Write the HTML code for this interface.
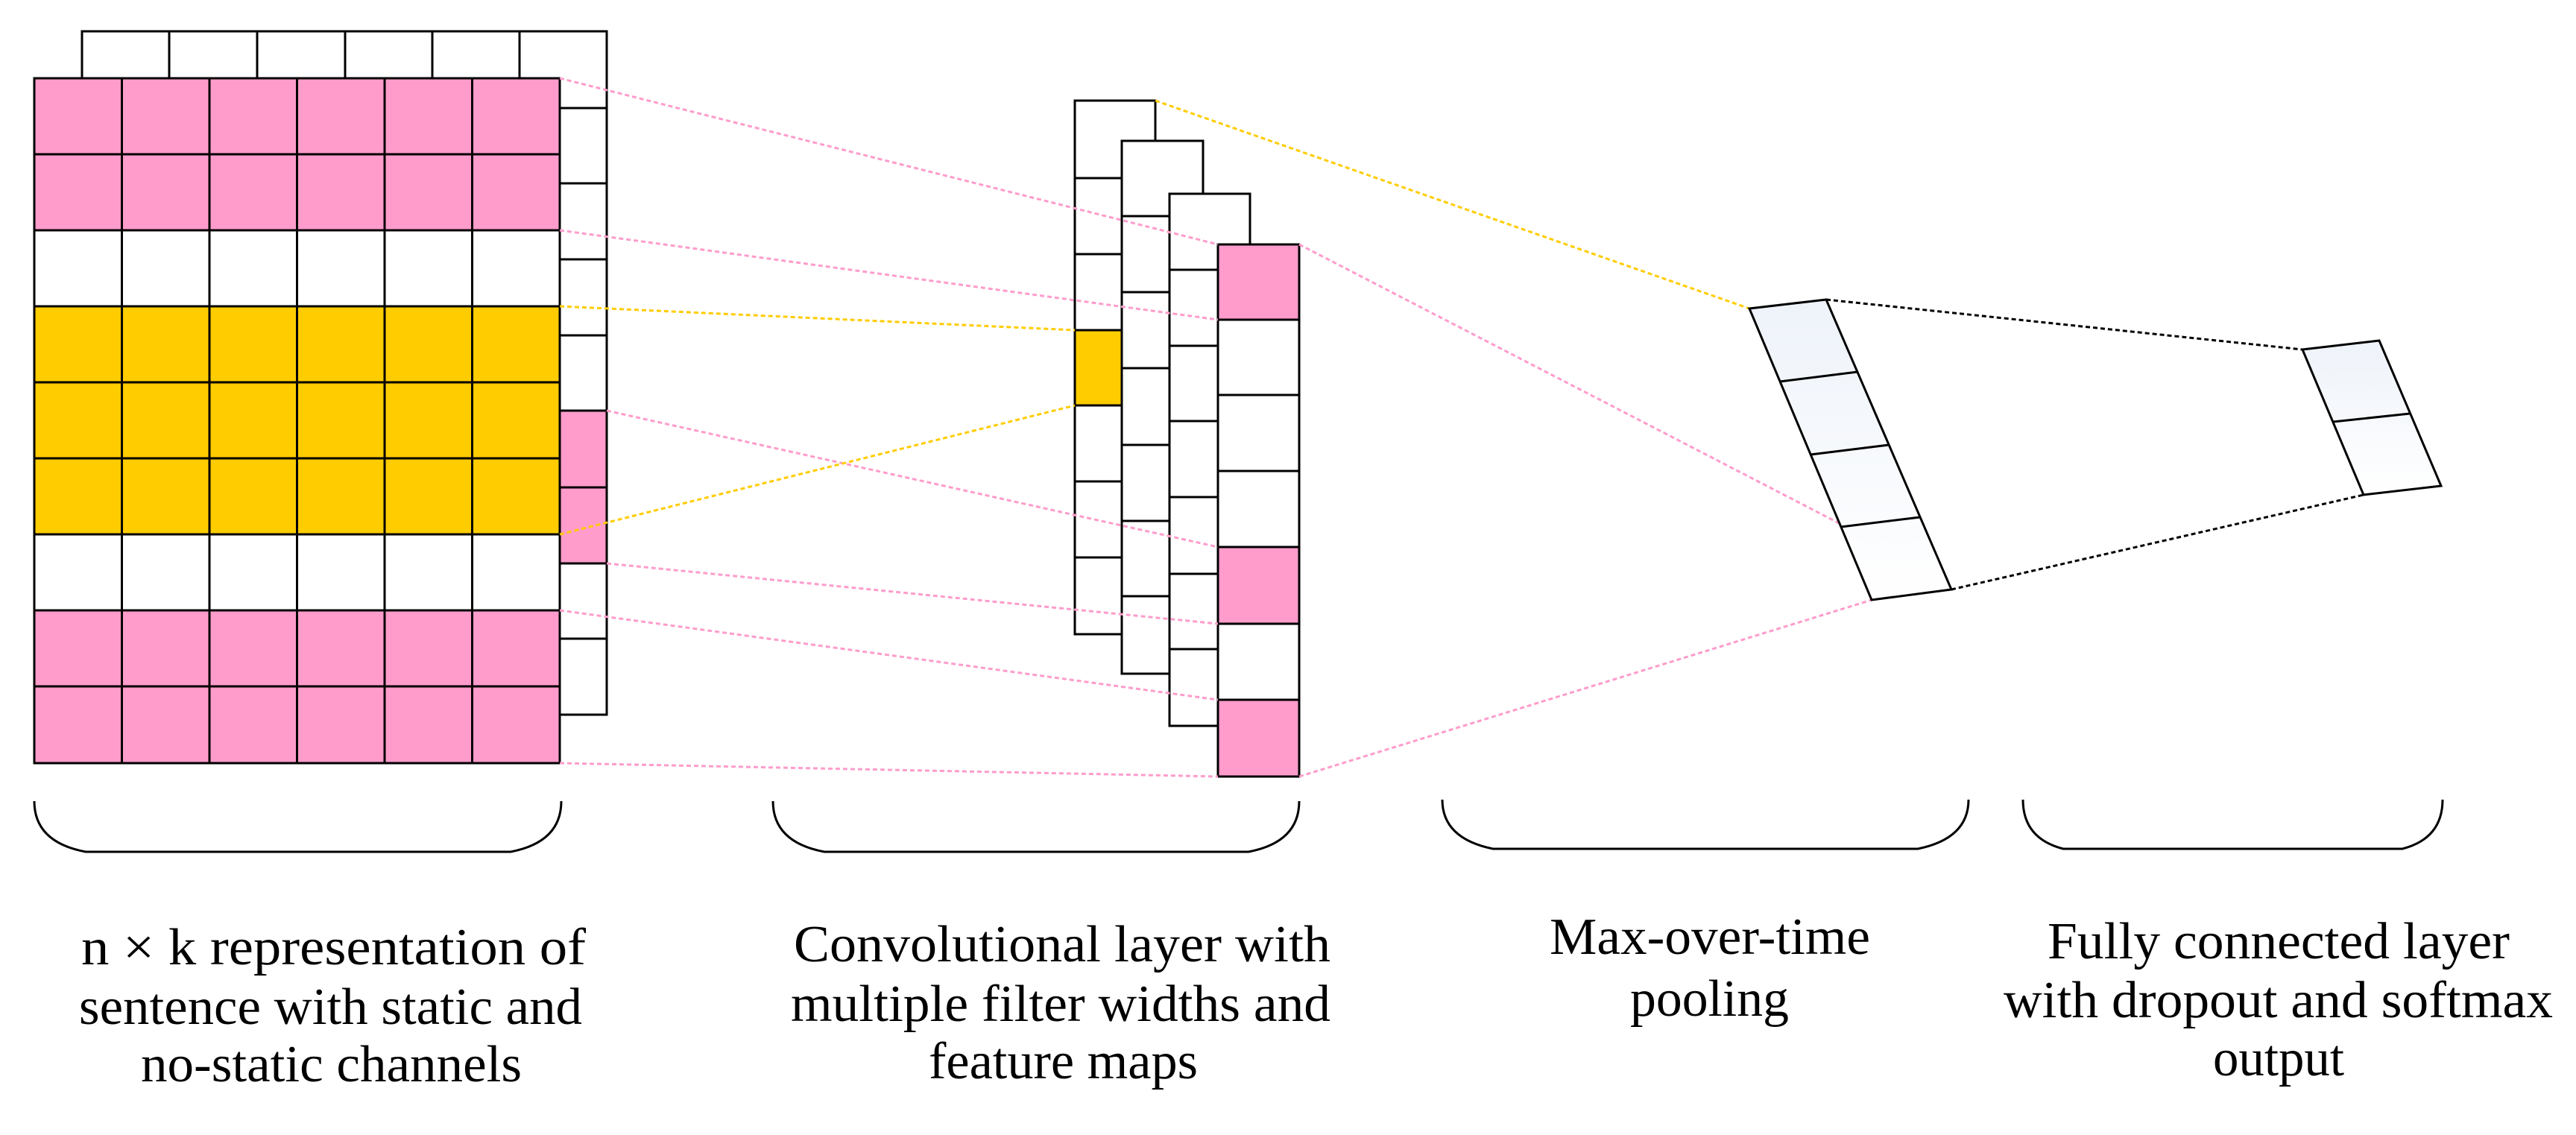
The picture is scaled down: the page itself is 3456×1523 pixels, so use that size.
<!DOCTYPE html>
<html><head><meta charset="utf-8"><style>
html,body{margin:0;padding:0;background:#fff;width:3456px;height:1523px;overflow:hidden}
svg{display:block}
</style></head><body>
<svg width="3456" height="1523" viewBox="0 0 3456 1523" xmlns="http://www.w3.org/2000/svg">
<defs>
<linearGradient id="g" x1="0" y1="0" x2="0" y2="1"><stop offset="0" stop-color="#eef3fa"/><stop offset="1" stop-color="#ffffff"/></linearGradient>
</defs>
<g stroke="#000" stroke-width="3">
<rect x="110" y="42" width="117" height="63" fill="#fff"/>
<rect x="227" y="42" width="118" height="63" fill="#fff"/>
<rect x="345" y="42" width="118" height="63" fill="#fff"/>
<rect x="463" y="42" width="117" height="63" fill="#fff"/>
<rect x="580" y="42" width="117" height="63" fill="#fff"/>
<rect x="697" y="42" width="117" height="103" fill="#fff"/>
<rect x="751" y="145" width="63" height="101" fill="#fff"/>
<rect x="751" y="246" width="63" height="102" fill="#fff"/>
<rect x="751" y="348" width="63" height="102" fill="#fff"/>
<rect x="751" y="450" width="63" height="101" fill="#fff"/>
<rect x="751" y="551" width="63" height="103" fill="#ff9ccc"/>
<rect x="751" y="654" width="63" height="102" fill="#ff9ccc"/>
<rect x="751" y="756" width="63" height="101" fill="#fff"/>
<rect x="751" y="857" width="63" height="102" fill="#fff"/>
</g>
<g stroke="#000" stroke-width="3">
<g fill="#ff9ccc"><rect x="46" y="105" width="705" height="102"/><rect x="46" y="207" width="705" height="102"/></g>
<rect x="46" y="309" width="705" height="102" fill="#fff"/>
<g fill="#ffcc00"><rect x="46" y="411" width="705" height="102"/><rect x="46" y="513" width="705" height="102"/><rect x="46" y="615" width="705" height="102"/></g>
<rect x="46" y="717" width="705" height="102" fill="#fff"/>
<g fill="#ff9ccc"><rect x="46" y="819" width="705" height="102"/><rect x="46" y="921" width="705" height="103"/></g>
<path d="M163.5 105V1024M281 105V1024M398.5 105V1024M516 105V1024M633.5 105V1024" fill="none"/>
</g>
<g stroke="#000" stroke-width="3" fill="#fff">
<rect x="1442" y="135" width="108" height="716"/>
<rect x="1442" y="443" width="63" height="101" fill="#ffcc00"/>
<path d="M1442 239H1505M1442 341H1505M1442 646H1505M1442 748H1505" fill="none"/>
<rect x="1505" y="189" width="109" height="715"/>
<path d="M1505 290H1569M1505 392H1569M1505 494H1569M1505 597H1569M1505 699H1569M1505 800H1569" fill="none"/>
<rect x="1569" y="260" width="108" height="714"/>
<path d="M1569 362H1634M1569 464H1634M1569 565H1634M1569 667H1634M1569 770H1634M1569 871H1634" fill="none"/>
<rect x="1634" y="328" width="109" height="101" fill="#ff9ccc"/>
<rect x="1634" y="429" width="109" height="101"/>
<rect x="1634" y="530" width="109" height="102"/>
<rect x="1634" y="632" width="109" height="102"/>
<rect x="1634" y="734" width="109" height="103" fill="#ff9ccc"/>
<rect x="1634" y="837" width="109" height="102"/>
<rect x="1634" y="939" width="109" height="103" fill="#ff9ccc"/>
</g>
<g fill="none" stroke-width="3" stroke-dasharray="6 4">
<g stroke="#ff9ccc">
<path d="M751 105L1634 328"/>
<path d="M751 309L1634 429"/>
<path d="M814 551L1634 734"/>
<path d="M814 756L1634 837"/>
<path d="M751 819L1634 939"/>
<path d="M751 1024L1634 1042"/>
<path d="M1743 328L2471 704"/>
<path d="M1743 1042L2511 805"/>
</g>
<g stroke="#ffcc00">
<path d="M751 411L1442 443"/>
<path d="M751 717L1442 544"/>
<path d="M1550 135L2347 414"/>
</g>
<g stroke="#000">
<path d="M2450 402L3089 469"/>
<path d="M2618 791L3171 664"/>
</g>
</g>
<g stroke="#000" stroke-width="3">
<polygon points="2347,414 2450,402 2618,791 2511,805" fill="url(#g)"/>
<path d="M2388 512L2492 499M2429 610L2534 597M2470 707L2576 694" fill="none"/>
<polygon points="3089,469 3192,457 3275,652 3171,664" fill="url(#g)"/>
<path d="M3130 566L3233 555" fill="none"/>
</g>
<g fill="none" stroke="#000" stroke-width="3">
<path d="M46 1075Q46 1130 115 1143L685 1143Q753 1130 753 1075"/>
<path d="M1037 1075Q1037 1130 1106 1143L1675 1143Q1743 1130 1743 1075"/>
<path d="M1935 1073Q1935 1125 2003 1139L2573 1139Q2641 1125 2641 1073"/>
<path d="M2714 1073Q2714 1125 2768 1139L3223 1139Q3277 1125 3277 1073"/>
</g>
<g font-family="Liberation Serif, DejaVu Serif, serif" font-size="70" fill="#000" lengthAdjust="spacingAndGlyphs">
<text x="109" y="1294" textLength="677" lengthAdjust="spacingAndGlyphs">n × k representation of</text>
<text x="106" y="1374" textLength="675" lengthAdjust="spacingAndGlyphs">sentence with static and</text>
<text x="189" y="1451" textLength="511" lengthAdjust="spacingAndGlyphs">no-static channels</text>
<text x="1065" y="1290" textLength="720" lengthAdjust="spacingAndGlyphs">Convolutional layer with</text>
<text x="1061" y="1370" textLength="724" lengthAdjust="spacingAndGlyphs">multiple filter widths and</text>
<text x="1246" y="1447" textLength="361" lengthAdjust="spacingAndGlyphs">feature maps</text>
<text x="2079" y="1280" textLength="430" lengthAdjust="spacingAndGlyphs">Max-over-time</text>
<text x="2187" y="1363" textLength="213" lengthAdjust="spacingAndGlyphs">pooling</text>
<text x="2747" y="1286" textLength="620" lengthAdjust="spacingAndGlyphs">Fully connected layer</text>
<text x="2688" y="1365" textLength="737" lengthAdjust="spacingAndGlyphs">with dropout and softmax</text>
<text x="2969" y="1443" textLength="176" lengthAdjust="spacingAndGlyphs">output</text>
</g>
</svg>
</body></html>
